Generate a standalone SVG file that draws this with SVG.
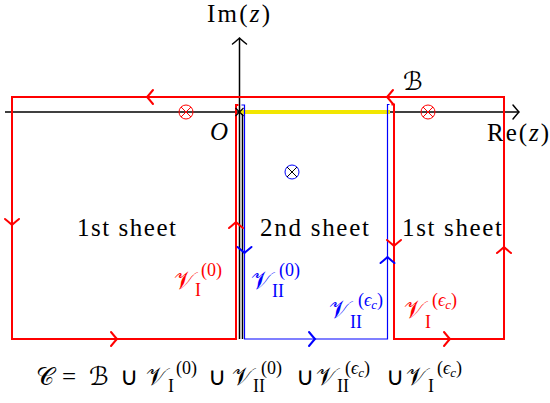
<svg xmlns="http://www.w3.org/2000/svg" width="550" height="403" viewBox="0 0 550 403" font-family="'Liberation Serif', serif">
<style>
.t{font-family:"Liberation Serif",serif;font-size:25px;fill:#000;}
.it{font-style:italic;}
.sc{font-family:"DejaVu Sans","Noto Sans",sans-serif;font-style:normal;}
.sb{font-size:18px;}
.ss{font-size:13px;font-style:italic;}
.red{fill:#ff0000;}
.blue{fill:#0000ff;}
.rl{fill:none;stroke:#ff0000;stroke-width:2;}
.bl{fill:none;stroke:#0000ff;stroke-width:1.2;}
.ax{fill:none;stroke:#000;stroke-width:1.5;}
.ra{fill:none;stroke:#ff0000;stroke-width:2;stroke-linecap:round;}
.ba{fill:none;stroke:#0000ff;stroke-width:2;stroke-linecap:round;}
.ka{fill:none;stroke:#000;stroke-width:1.5;stroke-linecap:round;}
.pr{fill:none;stroke:#ff0000;stroke-width:1;}
</style>
<defs>
<path id="chev" d="M -6,-7 Q -1.5,-1.5 0,0 Q -1.5,1.5 -6,7"/>
</defs>
<g id="axes">
<line class="ax" x1="5" y1="112" x2="518" y2="112"/>
<line class="ax" x1="239.5" y1="339" x2="239.5" y2="39"/>
<line class="ax" x1="242.5" y1="112" x2="242.5" y2="339"/>
<use href="#chev" class="ka" transform="translate(519,112)"/>
<use href="#chev" class="ka" transform="translate(239.5,38) rotate(-90)"/>
<text class="t" x="207" y="22" font-size="26" textLength="63">Im(<tspan class="it">z</tspan>)</text>
<text class="t" x="487" y="141" font-size="26" textLength="62">Re(<tspan class="it">z</tspan>)</text>
<text class="t it" x="210" y="140" font-size="26">O</text>
</g>
<g id="connectors">
<line x1="240" y1="112" x2="390" y2="112" stroke="#f2e600" stroke-width="4"/>
<path class="rl" d="M 391.5,104.5 H 394 V 339 H 504 V 97 H 12 V 339 H 236 V 105 H 238.5"/>
<path class="bl" d="M 241.5,105 H 244.5 V 339 H 387.5 V 104.5 H 389.5"/>
<use href="#chev" class="ra" transform="translate(147,97) rotate(180)"/>
<use href="#chev" class="ra" transform="translate(387,97) rotate(180)"/>
<use href="#chev" class="ra" transform="translate(12,225) rotate(90)"/>
<use href="#chev" class="ra" transform="translate(117,339)"/>
<use href="#chev" class="ra" transform="translate(236,222) rotate(-90)"/>
<use href="#chev" class="ra" transform="translate(394,246) rotate(90)"/>
<use href="#chev" class="ra" transform="translate(504,247) rotate(-90)"/>
<use href="#chev" class="ra" transform="translate(450,339)"/>
<use href="#chev" class="ba" transform="translate(244.5,253) rotate(90)"/>
<use href="#chev" class="ba" transform="translate(315,339)"/>
<use href="#chev" class="ba" transform="translate(387.5,257) rotate(-90)"/>
</g>
<g id="origin">
<path d="M 235.5,108 L 243.5,116 M 243.5,108 L 235.5,116" stroke="#000" stroke-width="1.2" fill="none"/>
</g>
<g id="pole1">
<circle class="pr" cx="186" cy="112" r="7"/>
<path class="pr" d="M 181,107 L 191,117 M 191,107 L 181,117"/>
</g>
<g id="pole2">
<circle class="pr" cx="428" cy="112" r="7"/>
<path class="pr" d="M 423,107 L 433,117 M 433,107 L 423,117"/>
</g>
<g id="pole3">
<circle cx="292" cy="172" r="7" fill="none" stroke="#0000ff" stroke-width="1"/>
<path d="M 287,167 L 297,177 M 297,167 L 287,177" stroke="#000" stroke-width="1"/>
</g>
<g id="labelB">
<text class="t sc" x="403" y="90" font-size="23" font-style="italic">ℬ</text>
</g>
<g id="sheets">
<text class="t" x="77" y="236" font-family="Liberation Serif" textLength="99">1st sheet</text>
<text class="t" x="260" y="236" font-family="Liberation Serif" textLength="109">2nd sheet</text>
<text class="t" x="402" y="236" font-family="Liberation Serif" textLength="100">1st sheet</text>
</g>
<g id="V1">
<text class="t red"><tspan class="sc" x="174" y="289">𝒱</tspan><tspan class="sb" x="195" y="296">I</tspan><tspan class="sb" x="201" y="276">(0)</tspan></text>
</g>
<g id="V2">
<text class="t blue"><tspan class="sc" x="251" y="289">𝒱</tspan><tspan class="sb" x="272" y="297">II</tspan><tspan class="sb" x="279" y="276">(0)</tspan></text>
</g>
<g id="V3">
<text class="t blue"><tspan class="sc" x="329" y="318">𝒱</tspan><tspan class="sb" x="350" y="328">II</tspan><tspan class="sb" x="358" y="306">(<tspan class="it">ϵ</tspan></tspan><tspan class="ss" dy="3">c</tspan><tspan class="sb" dy="-3">)</tspan></text>
</g>
<g id="V4">
<text class="t red"><tspan class="sc" x="404" y="318">𝒱</tspan><tspan class="sb" x="425" y="328">I</tspan><tspan class="sb" x="432" y="306">(<tspan class="it">ϵ</tspan></tspan><tspan class="ss" dy="3">c</tspan><tspan class="sb" dy="-3">)</tspan></text>
</g>
<g id="formula">
<text class="t" font-size="26"><tspan class="sc" x="36" y="385">𝒞</tspan><tspan x="62" y="385">=</tspan><tspan class="sc" x="89" y="385" font-style="italic">ℬ</tspan><tspan x="120" y="385">∪</tspan><tspan class="sc" x="146" y="385">𝒱</tspan><tspan class="sb" x="168" y="392">I</tspan><tspan class="sb" x="176" y="374">(0)</tspan><tspan x="208" y="385">∪</tspan><tspan class="sc" x="232" y="385">𝒱</tspan><tspan class="sb" x="253" y="392">II</tspan><tspan class="sb" x="261" y="374">(0)</tspan><tspan x="296" y="385">∪</tspan><tspan class="sc" x="316" y="385">𝒱</tspan><tspan class="sb" x="337" y="392">II</tspan><tspan class="sb" x="345" y="374">(<tspan class="it">ϵ</tspan></tspan><tspan class="ss" dy="3">c</tspan><tspan class="sb" dy="-3">)</tspan><tspan x="386" y="385">∪</tspan><tspan class="sc" x="406" y="385">𝒱</tspan><tspan class="sb" x="428" y="392">I</tspan><tspan class="sb" x="437" y="374">(<tspan class="it">ϵ</tspan></tspan><tspan class="ss" dy="3">c</tspan><tspan class="sb" dy="-3">)</tspan></text>
</g>
</svg>
